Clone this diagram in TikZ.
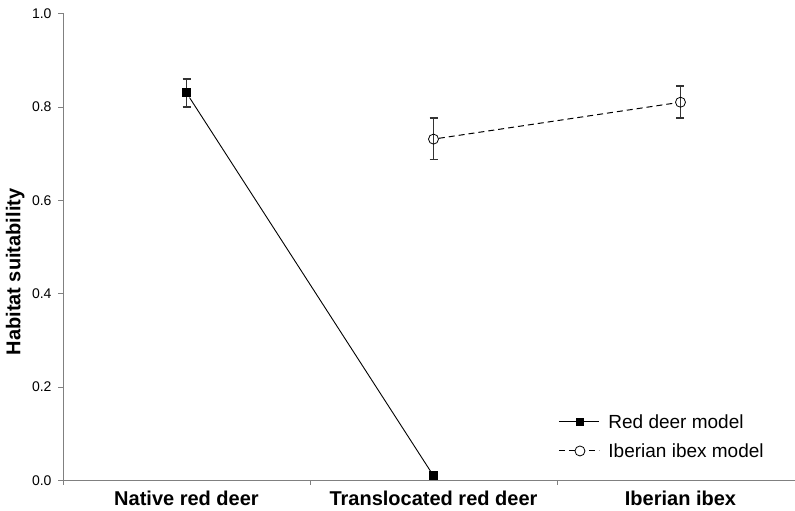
\documentclass[tikz,border=0pt]{standalone}
\usepackage{fontspec}
\setmainfont{Liberation Sans}
\usepackage{tikz}
\usepackage{xcolor}
\definecolor{axisgray}{HTML}{808080}
\definecolor{bargray}{HTML}{333333}

\begin{document}
\begin{tikzpicture}[x=247pt,y=467pt,
    sq/.style={rectangle,fill=black,minimum size=9pt,inner sep=0pt},
    ci/.style={circle,draw=black,line width=0.8pt,minimum size=10pt,inner sep=0pt},
    ebar/.style={draw=bargray,line width=1.4pt},
    ticklab/.style={font=\fontsize{14}{16}\selectfont,anchor=east},
    catlab/.style={font=\fontsize{20}{24}\selectfont\bfseries},
    leglab/.style={font=\fontsize{19}{23}\selectfont,anchor=west}]
        \useasboundingbox (-0.2551,-0.0653) rectangle (2.9636,1.0289);
        %坐标轴
        \draw[axisgray,line width=1pt](0,1)--(0,0);
        \draw[axisgray,line width=1.6pt](0,0)--(2.9636,0);
        \foreach \v in {0.0,0.2,0.4,0.6,0.8,1.0}{
        \draw[axisgray](0,\v)--+(-5pt,0);
        \node[ticklab](y\v) at ([xshift=-8pt]0,\v){\v};
        }
        \foreach \x in {0,1,2}{
        \draw[axisgray](\x,0)--+(0,-5pt);
        }
        \node[catlab,rotate=90](ylab) at (-0.194,0.4465){Habitat suitability};
        \node[catlab](cat1) at (0.5,-0.0375){Native red deer};
        \node[catlab](cat2) at (1.5,-0.0375){Translocated red deer};
        \node[catlab](cat3) at (2.5,-0.0375){Iberian ibex};
        %误差棒
        \foreach \x/\lo/\hi in {0.5/0.80/0.86,1.5/0.687/0.776,2.5/0.776/0.845}{
        \draw[ebar](\x,\lo)--(\x,\hi);
        \draw[ebar]([xshift=-4pt]\x,\lo)--+(8pt,0);
        \draw[ebar]([xshift=-4pt]\x,\hi)--+(8pt,0);
        }
        %数据点
        \node[sq](nrd) at (0.5,0.83){};
        \node[sq](trd) at (1.5,0.01){};
        \node[ci](tib) at (1.5,0.731){};
        \node[ci](iib) at (2.5,0.81){};
        \draw[line width=0.9pt](nrd)--(trd);
        \draw[line width=1pt,dash pattern=on 6pt off 4pt](tib)--(iib);
        %图例
        \coordinate(la1) at (2.008,0.126);
        \coordinate(lb1) at (2.170,0.126);
        \coordinate(la2) at (2.008,0.0632);
        \coordinate(lb2) at (2.170,0.0632);
        \draw[line width=0.9pt](la1)--(lb1);
        \draw[line width=1pt,dash pattern=on 6pt off 4pt](la2)--(lb2);
        \node[sq,minimum size=8pt](lm1) at (2.093,0.126){};
        \node[ci,fill=white](lm2) at (2.093,0.0632){};
        \node[leglab](lt1) at (2.194,0.126){Red deer model};
        \node[leglab](lt2) at (2.194,0.0632){Iberian ibex model};
    \end{tikzpicture}
\end{document}
